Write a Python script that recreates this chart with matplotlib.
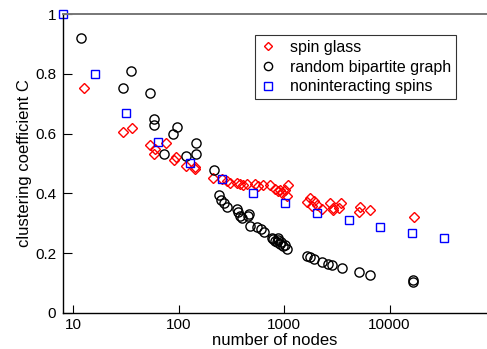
import matplotlib
matplotlib.use("Agg")
import matplotlib.pyplot as plt
import numpy as np

plt.rcParams["font.family"] = ["Liberation Sans", "DejaVu Sans"]

# ── Data ──────────────────────────────────────────────────────────────────────
glass_n = [12.8, 29.8, 36.0, 53.7, 59.9, 59.2, 75.3, 89.7, 95.7, 117, 143, 143,
           214, 257, 286, 308, 361, 383, 411, 443, 531, 570, 628, 736, 822, 883,
           951, 1021, 1099, 1061, 916, 1641, 1763, 1923, 1832, 2042, 2275, 2730,
           2932, 2894, 3446, 3345, 5250, 5139, 6534, 17080]
glass_c = [0.752, 0.606, 0.618, 0.561, 0.548, 0.532, 0.568, 0.513, 0.522, 0.491,
           0.488, 0.480, 0.453, 0.449, 0.441, 0.436, 0.436, 0.432, 0.428, 0.430,
           0.430, 0.424, 0.427, 0.428, 0.416, 0.408, 0.402, 0.411, 0.427, 0.391,
           0.413, 0.371, 0.386, 0.374, 0.358, 0.360, 0.349, 0.369, 0.352, 0.343,
           0.367, 0.352, 0.356, 0.338, 0.344, 0.321]

bip_n = [11.9, 29.8, 35.5, 53.7, 59.0, 59.0, 72.9, 89.3, 96.2, 117, 146, 146,
         215, 242, 253, 270, 286, 361, 369, 383, 403, 459, 469, 481, 551, 605,
         646, 769, 795, 822, 853, 883, 916, 985, 1021, 1061, 940, 870, 1641,
         1782, 1945, 2275, 2630, 2851, 3508, 5084, 6534, 16820, 16820]
bip_c = [0.919, 0.752, 0.811, 0.736, 0.650, 0.630, 0.532, 0.600, 0.622, 0.524,
         0.569, 0.532, 0.477, 0.393, 0.377, 0.369, 0.354, 0.347, 0.337, 0.324,
         0.319, 0.324, 0.332, 0.292, 0.286, 0.280, 0.272, 0.252, 0.247, 0.241,
         0.236, 0.244, 0.230, 0.224, 0.227, 0.213, 0.238, 0.250, 0.190, 0.186,
         0.180, 0.172, 0.165, 0.160, 0.150, 0.137, 0.127, 0.111, 0.105]

free_n = [8, 16, 32, 64, 128, 256, 512, 1024, 2048, 4096, 8192, 16384, 32768]
free_c = [1.0, 0.801, 0.669, 0.573, 0.502, 0.447, 0.400, 0.367, 0.336, 0.310,
          0.288, 0.269, 0.252]

xticks = [10, 100, 1000, 10000]
yticks = [0, 0.2, 0.4, 0.6, 0.8, 1]
ytick_labels = ["0", "0.2", "0.4", "0.6", "0.8", "1"]

# ── Plot ──────────────────────────────────────────────────────────────────────
fig = plt.figure(figsize=(4.87, 3.49), dpi=100)
ax = fig.add_axes([63 / 487, 1 - 313 / 349, 1 - 63 / 487, 299 / 349])

ax.plot(glass_n, glass_c, ls="none", marker="D", ms=4.6, mfc="none",
        mec="#ff0000", mew=1.0, label="spin glass", clip_on=False)
ax.plot(bip_n, bip_c, ls="none", marker="o", ms=6.6, mfc="none",
        mec="black", mew=1.0, label="random bipartite graph", clip_on=False)
ax.plot(free_n, free_c, ls="none", marker="s", ms=5.8, mfc="none",
        mec="#0000ff", mew=1.0, label="noninteracting spins", clip_on=False)

ax.set_xscale("log")
ax.set_xlim(8.04, 83950)
ax.set_ylim(0, 1)
ax.set_xticks(xticks)
ax.set_xticklabels([str(t) for t in xticks])
ax.xaxis.set_minor_locator(matplotlib.ticker.NullLocator())
ax.set_yticks(yticks)
ax.set_yticklabels(ytick_labels)
ax.tick_params(axis="x", direction="in", length=6, width=0.8, labelsize=11, pad=3.5)
ax.tick_params(axis="y", direction="in", length=6.5, width=0.8, labelsize=11, pad=5)

ax.set_xlabel("number of nodes", fontsize=12, labelpad=1)
ax.set_ylabel("clustering coefficient C", fontsize=12, labelpad=2)

ax.spines["right"].set_visible(False)
ax.spines["top"].set_color("#777777")
ax.spines["top"].set_linewidth(1.4)
ax.spines["left"].set_linewidth(1.0)
ax.spines["bottom"].set_linewidth(1.0)

leg = ax.legend(loc="upper left", bbox_to_anchor=(255 / 487, 1 - 35 / 349),
                bbox_transform=fig.transFigure, borderaxespad=0, fontsize=11.5,
                frameon=True, fancybox=False, handlelength=1.0, handletextpad=0.9,
                labelspacing=0.3, borderpad=0.3, markerscale=0.9)
leg.get_frame().set_edgecolor("black")
leg.get_frame().set_linewidth(0.8)

fig.savefig("out.png", dpi=100)
